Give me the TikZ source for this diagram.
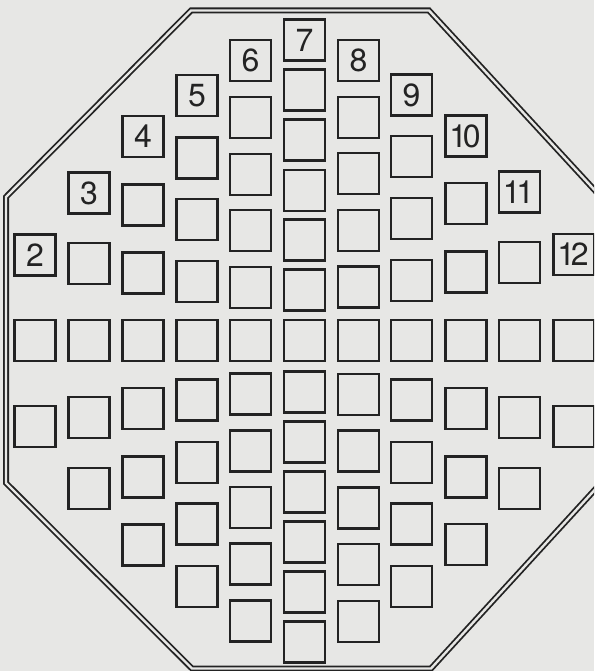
\documentclass[tikz,border=0pt]{standalone}
\usepackage{fontspec}
\setmainfont{TeX Gyre Heros}
\definecolor{paper}{RGB}{231,231,229}
\definecolor{ink}{RGB}{35,35,35}
\tikzset{
  box/.style={draw=ink, line width=2.2pt, minimum width=41pt, minimum height=41pt, inner sep=0pt, fill=paper},
  lab/.style={box, font=\fontsize{32}{32}\selectfont, text=ink},
  rim/.style={draw=ink, line width=1.8pt, double=paper, double distance=2.4pt, line join=miter}
}
\begin{document}
\begin{tikzpicture}[x=1pt,y=-1pt]
\useasboundingbox (0,0) rectangle (594,671);
\fill[paper] (0,0) rectangle (594,671);
\clip (0,0) rectangle (594,671);
\draw[rim] (191,10.5) -- (429,10.5) -- (601,197) -- (601,483) -- (431,668.5) -- (192,668.5) -- (6,483) -- (6,197) -- cycle;
% labels
\foreach \n/\x/\y/\t in {2/35/255/2, 3/89/193/3, 4/143/136.5/4, 5/197/95.5/5, 6/250.5/60.5/6, 7/304.5/40/7, 8/358.5/60.5/8, 9/411.5/95/9, 10/466/136/{\kern-2pt1\kern-4.5pt0}, 11/519.5/192/{\kern-2pt1\kern-4.5pt1}, 12/574/254.5/{\kern-2pt1\kern-4.5pt2}}
  \node[lab] (l\n) at (\x,\y) {\t};
% squares
\foreach \c/\x/\ys in {
  1/35/{340.5,426.5},
  2/89/{263.5,340.5,417.5,488.5},
  3/143/{205,273,340.5,408.5,477,545},
  4/197/{158,219.5,281.5,340.5,400,462.5,524,586.5},
  5/250.5/{117.5,174.5,230.5,287.5,340.5,394,451,507.5,564,621},
  6/304.5/{90,140,190.5,240,290,340.5,392,442,492,542,592,642},
  7/358.5/{117.5,173.5,230.5,287,340.5,394.5,451,508,564.5,621.5},
  8/411.5/{156.5,218.5,280.5,340.5,400,462.5,524,586.5},
  9/466/{203.5,272,340.5,408.5,477,544.5},
  10/519.5/{262.5,340.5,417.5,488.5},
  11/574/{340.5,426.5}}
  \foreach \y [count=\r] in \ys
    \node[box] (s\c-\r) at (\x,\y) {};
\end{tikzpicture}
\end{document}
